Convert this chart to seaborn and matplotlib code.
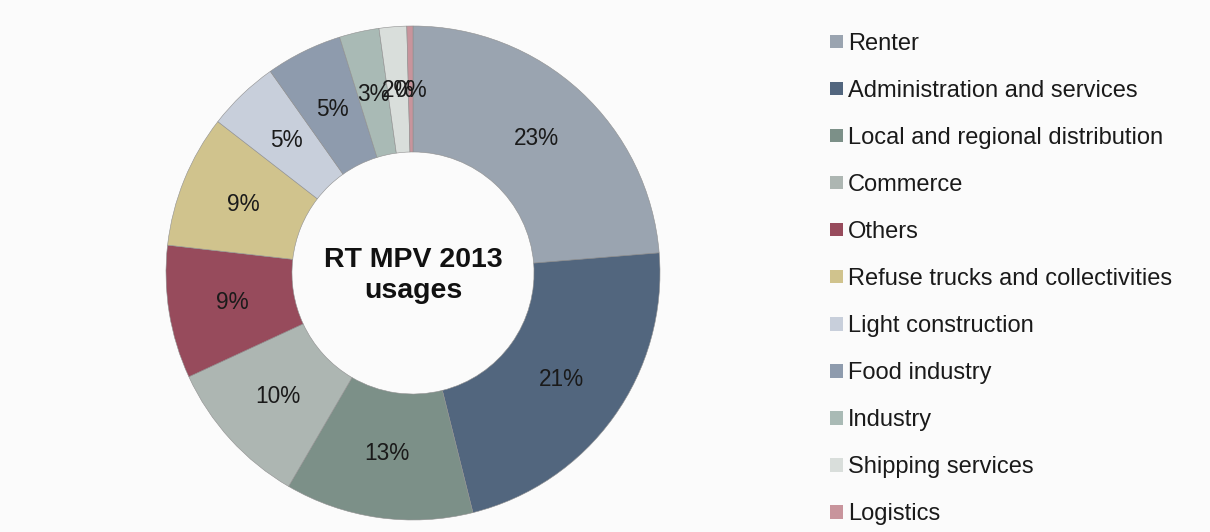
import matplotlib
matplotlib.use("Agg")
import matplotlib.pyplot as plt
from matplotlib.patches import Patch
import seaborn as sns

# usage shares (degrees)
usages = ["Renter", "Administration and services", "Local and regional distribution",
          "Commerce", "Others", "Refuse trucks and collectivities", "Light construction",
          "Food industry", "Industry", "Shipping services", "Logistics"]
shares = [23.7, 22.4, 12.3, 9.7, 8.7, 8.7, 4.7, 5.0, 2.6, 1.8, 0.4]
# percent texts as printed on the chart
pct_labels = ["23%", "21%", "13%", "10%", "9%", "9%", "5%", "5%", "3%", "2%", "0%"]
colors = ["#9aa4b0", "#52667e", "#7c9088", "#adb6b2", "#974b5c", "#d0c38d",
          "#c8cfdb", "#8e9bad", "#a9bab5", "#d9dedb", "#c8949c"]

sns.set_theme(style="white")
plt.rcParams["font.family"] = ["Liberation Sans", "DejaVu Sans"]
bg = "#fbfbfb"

fig = plt.figure(figsize=(12.1, 5.32), dpi=100, facecolor=bg)
ax = fig.add_axes([166 / 1210, 12 / 532, 494 / 1210, 494 / 532])
ax.set_facecolor(bg)

wedges, texts = ax.pie(shares, labels=pct_labels, colors=sns.color_palette(colors),
                       startangle=90, counterclock=False, labeldistance=0.74,
                       wedgeprops=dict(width=0.51, edgecolor="#8f8f8f", linewidth=0.4),
                       textprops=dict(fontsize=16.3, color="#1a1a1a"))
for t in texts:
    t.set_horizontalalignment("center")
    t.set_verticalalignment("center")
ax.set_xlim(-1, 1)
ax.set_ylim(-1, 1)
ax.set_aspect("equal")
ax.axis("off")

ax.text(0, -0.01, "RT MPV 2013\nusages", ha="center", va="center", fontsize=20.5,
        fontweight="bold", color="#111111", linespacing=1.25)

handles = [Patch(facecolor=c, edgecolor="none") for c in colors]
fig.legend(handles, usages, loc="upper left", bbox_to_anchor=(830 / 1210, 1 - 33 / 532),
           frameon=False, fontsize=17, handlelength=0.55, handleheight=0.5,
           handletextpad=0.21, labelspacing=1.06, borderaxespad=0, borderpad=0,
           labelcolor="#1a1a1a")

fig.savefig("out.png", dpi=100, facecolor=bg)
